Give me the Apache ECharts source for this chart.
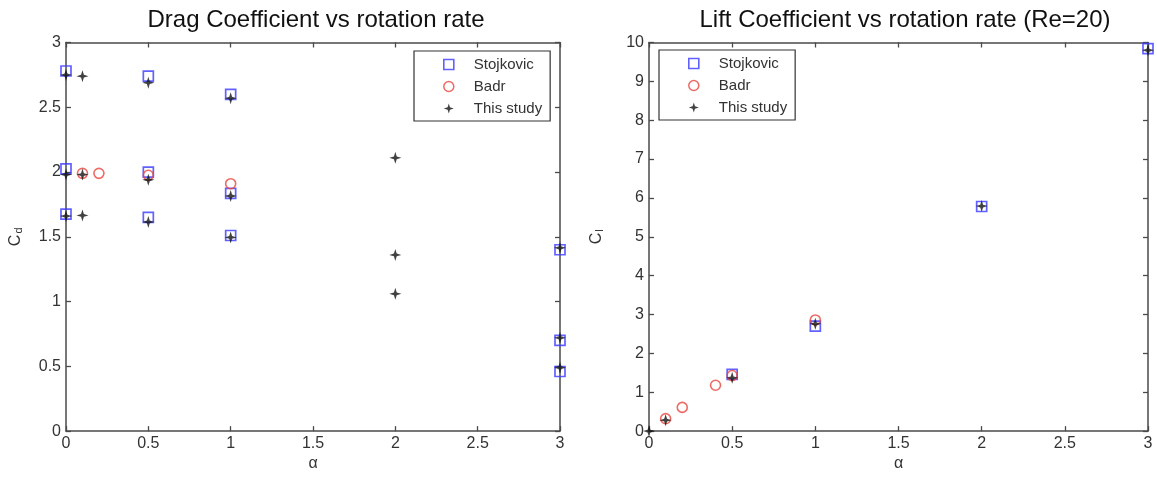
<!DOCTYPE html>
<html>
<head>
<meta charset="utf-8">
<script src="https://cdn.jsdelivr.net/npm/echarts@6/dist/echarts.min.js"></script>
<style>
  html, body { margin: 0; padding: 0; background: #fff; }
  #chart { width: 1157px; height: 477px; }
</style>
</head>
<body>
<div id="chart"></div>
<script>
// Drag coefficient Cd against rotation rate alpha
const dragStojAlpha = [0, 0, 0, 0.5, 0.5, 0.5, 1, 1, 1, 3, 3, 3];
const dragStojCd    = [2.78, 2.025, 1.675, 2.74, 2.0, 1.65, 2.60, 1.835, 1.51, 1.40, 0.70, 0.46];
const dragBadrAlpha = [0.1, 0.2, 0.5, 1];
const dragBadrCd    = [1.99, 1.99, 1.975, 1.91];
const dragStudyAlpha = [0, 0, 0, 0.1, 0.1, 0.1, 0.5, 0.5, 0.5, 1, 1, 1, 2, 2, 2, 3, 3, 3];
const dragStudyCd    = [2.75, 1.98, 1.66, 2.74, 1.98, 1.665, 2.69, 1.94, 1.615, 2.57, 1.815, 1.495, 2.11, 1.36, 1.06, 1.415, 0.72, 0.49];

// Lift coefficient Cl against rotation rate alpha (Re=20)
const liftStojAlpha = [0.5, 1, 2, 3];
const liftStojCl    = [1.46, 2.70, 5.78, 9.84];
const liftBadrAlpha = [0.1, 0.2, 0.4, 0.5, 1];
const liftBadrCl    = [0.32, 0.61, 1.18, 1.43, 2.86];
const liftStudyAlpha = [0, 0.1, 0.5, 1, 2, 3];
const liftStudyCl    = [0, 0.28, 1.37, 2.76, 5.79, 9.80];

const seriesNames = ['Stojkovic', 'Badr', 'This study'];
const panelTitles = ['Drag Coefficient vs rotation rate', 'Lift Coefficient vs rotation rate (Re=20)'];

const FONT = '"Liberation Sans", Arial, Helvetica, sans-serif';
const AXIS_COLOR = '#4a4a4a';
const LABEL_COLOR = '#333';
const BLUE = '#3a3aff';
const RED = '#e8453f';
const STAR = 'path://M0,-6 L1.4,-1.4 L6,0 L1.4,1.4 L0,6 L-1.4,1.4 L-6,0 L-1.4,-1.4 Z';

const zip = (xs, ys) => xs.map((x, i) => [x, ys[i]]);

const chart = echarts.init(document.getElementById('chart'), null, { renderer: 'canvas' });

function mainX(grid) {
  return {
    type: 'value', gridIndex: grid, min: 0, max: 3, interval: 0.5, position: 'bottom',
    axisLine: { onZero: false, lineStyle: { color: AXIS_COLOR, width: 1.5 } },
    axisTick: { inside: true, length: 5, lineStyle: { color: AXIS_COLOR, width: 1.3 } },
    axisLabel: { color: LABEL_COLOR, fontSize: 16, fontFamily: FONT, margin: 4 },
    splitLine: { show: false },
    name: 'α', nameLocation: 'middle', nameGap: 24,
    nameTextStyle: { color: LABEL_COLOR, fontSize: 16, fontFamily: FONT }
  };
}
function mirrorX(grid) {
  return {
    type: 'value', gridIndex: grid, min: 0, max: 3, interval: 0.5, position: 'top',
    axisLine: { onZero: false, lineStyle: { color: AXIS_COLOR, width: 1.5 } },
    axisTick: { inside: true, length: 5, lineStyle: { color: AXIS_COLOR, width: 1.3 } },
    axisLabel: { show: false }, splitLine: { show: false }
  };
}
function mainY(grid, max, interval, sub, gap) {
  return {
    type: 'value', gridIndex: grid, min: 0, max: max, interval: interval, position: 'left',
    axisLine: { show: true, onZero: false, lineStyle: { color: AXIS_COLOR, width: 1.5 } },
    axisTick: { show: true, inside: true, length: 5, lineStyle: { color: AXIS_COLOR, width: 1.3 } },
    axisLabel: { color: LABEL_COLOR, fontSize: 16, fontFamily: FONT, margin: 5 },
    splitLine: { show: false },
    name: '{c|C}{s|' + sub + '}', nameLocation: 'middle', nameRotate: 90, nameGap: gap,
    nameTextStyle: {
      rich: {
        c: { fontSize: 16, fontFamily: FONT, color: LABEL_COLOR },
        s: { fontSize: 11, fontFamily: FONT, color: LABEL_COLOR, verticalAlign: 'bottom', padding: [0, 0, 0, 1] }
      }
    }
  };
}
function mirrorY(grid, max, interval) {
  return {
    type: 'value', gridIndex: grid, min: 0, max: max, interval: interval, position: 'right',
    axisLine: { show: true, onZero: false, lineStyle: { color: AXIS_COLOR, width: 1.5 } },
    axisTick: { show: true, inside: true, length: 5, lineStyle: { color: AXIS_COLOR, width: 1.3 } },
    axisLabel: { show: false }, splitLine: { show: false }
  };
}

function squareSeries(xi, yi, data) {
  return {
    name: seriesNames[0], type: 'scatter', xAxisIndex: xi, yAxisIndex: yi, data: data,
    symbol: 'rect', symbolSize: 10, clip: false,
    itemStyle: { color: 'rgba(0,0,0,0)', borderColor: BLUE, borderWidth: 1.7 }
  };
}
function circleSeries(xi, yi, data) {
  return {
    name: seriesNames[1], type: 'scatter', xAxisIndex: xi, yAxisIndex: yi, data: data,
    symbol: 'circle', symbolSize: 10, clip: false,
    itemStyle: { color: 'rgba(0,0,0,0)', borderColor: RED, borderWidth: 1.6 }
  };
}
function starSeries(xi, yi, data) {
  return {
    name: seriesNames[2], type: 'scatter', xAxisIndex: xi, yAxisIndex: yi, data: data,
    symbol: STAR, symbolSize: 12, clip: false,
    itemStyle: { color: '#111' }
  };
}

function legendAt(left, top) {
  return {
    left: left, top: top, orient: 'vertical',
    backgroundColor: '#fff', borderColor: '#333', borderWidth: 1.2,
    padding: [6, 8, 5, 29], itemGap: 7, itemWidth: 10, itemHeight: 10,
    textStyle: { fontSize: 15, fontFamily: FONT, color: '#333', padding: [0, 0, 0, 15] },
    selectedMode: false,
    data: [
      { name: seriesNames[0], icon: 'rect', itemStyle: { color: 'rgba(0,0,0,0)', borderColor: BLUE, borderWidth: 1.6 } },
      { name: seriesNames[1], icon: 'circle', itemStyle: { color: 'rgba(0,0,0,0)', borderColor: RED, borderWidth: 1.5 } },
      { name: seriesNames[2], icon: STAR, itemStyle: { color: '#111' } }
    ]
  };
}

const option = {
  animation: false,
  backgroundColor: '#fff',
  title: [
    { text: panelTitles[0], left: 311, top: 3, textAlign: 'center',
      textStyle: { fontSize: 24, fontWeight: 'normal', fontFamily: FONT, color: '#111' } },
    { text: panelTitles[1], left: 900, top: 3, textAlign: 'center',
      textStyle: { fontSize: 24, fontWeight: 'normal', fontFamily: FONT, color: '#111' } }
  ],
  grid: [
    { left: 66, top: 42.5, width: 494, height: 390.5 },
    { left: 649, top: 42.5, width: 499, height: 391 }
  ],
  legend: [legendAt(414, 51), legendAt(659, 50)],
  xAxis: [mainX(0), mirrorX(0), mainX(1), mirrorX(1)],
  yAxis: [mainY(0, 3, 0.5, 'd', 42), mirrorY(0, 3, 0.5), mainY(1, 10, 1, 'l', 44), mirrorY(1, 10, 1)],
  series: [
    squareSeries(0, 0, zip(dragStojAlpha, dragStojCd)),
    circleSeries(0, 0, zip(dragBadrAlpha, dragBadrCd)),
    starSeries(0, 0, zip(dragStudyAlpha, dragStudyCd)),
    squareSeries(2, 2, zip(liftStojAlpha, liftStojCl)),
    circleSeries(2, 2, zip(liftBadrAlpha, liftBadrCl)),
    starSeries(2, 2, zip(liftStudyAlpha, liftStudyCl))
  ]
};

chart.setOption(option);
</script>
</body>
</html>
